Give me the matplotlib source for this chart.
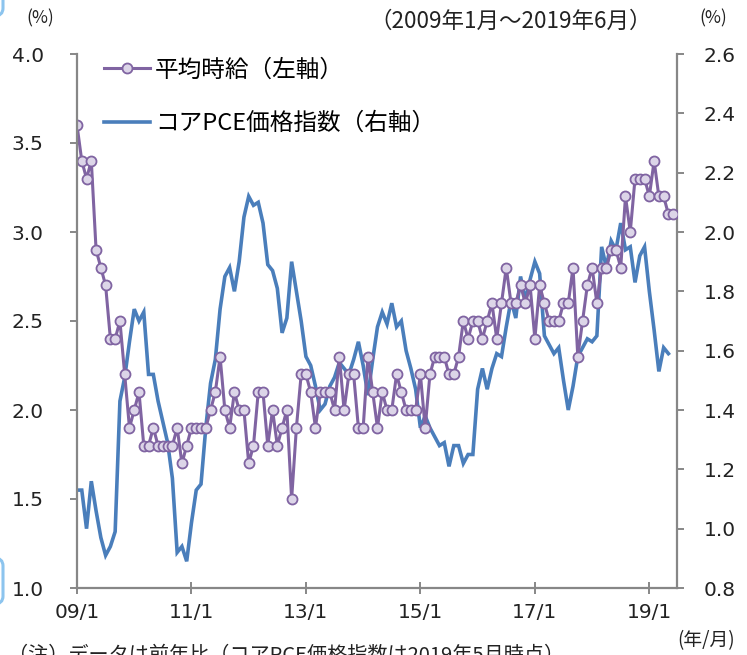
import numpy as np
import matplotlib.pyplot as plt
from matplotlib.lines import Line2D
from matplotlib.patches import FancyBboxPatch

plt.rcParams['font.family'] = ['DejaVu Sans', 'Noto Sans CJK JP']
JP = ['Noto Sans CJK JP', 'DejaVu Sans']

# monthly, 2009/1 - 2019/6 (y/y, %)
wage = [3.6, 3.4, 3.3, 3.4, 2.9, 2.8, 2.7, 2.4, 2.4, 2.5, 2.2, 1.9,   # 2009
        2.0, 2.1, 1.8, 1.8, 1.9, 1.8, 1.8, 1.8, 1.8, 1.9, 1.7, 1.8,   # 2010
        1.9, 1.9, 1.9, 1.9, 2.0, 2.1, 2.3, 2.0, 1.9, 2.1, 2.0, 2.0,   # 2011
        1.7, 1.8, 2.1, 2.1, 1.8, 2.0, 1.8, 1.9, 2.0, 1.5, 1.9, 2.2,   # 2012
        2.2, 2.1, 1.9, 2.1, 2.1, 2.1, 2.0, 2.3, 2.0, 2.2, 2.2, 1.9,   # 2013
        1.9, 2.3, 2.1, 1.9, 2.1, 2.0, 2.0, 2.2, 2.1, 2.0, 2.0, 2.0,   # 2014
        2.2, 1.9, 2.2, 2.3, 2.3, 2.3, 2.2, 2.2, 2.3, 2.5, 2.4, 2.5,   # 2015
        2.5, 2.4, 2.5, 2.6, 2.4, 2.6, 2.8, 2.6, 2.6, 2.7, 2.6, 2.7,   # 2016
        2.4, 2.7, 2.6, 2.5, 2.5, 2.5, 2.6, 2.6, 2.8, 2.3, 2.5, 2.7,   # 2017
        2.8, 2.6, 2.8, 2.8, 2.9, 2.9, 2.8, 3.2, 3.0, 3.3, 3.3, 3.3,   # 2018
        3.2, 3.4, 3.2, 3.2, 3.1, 3.1]                                 # 2019

# monthly, 2009/1 - 2019/5 (y/y, %)
core_pce = [1.13, 1.13, 1.00, 1.16, 1.06, 0.97, 0.91, 0.94, 0.99, 1.43, 1.51, 1.63,   # 2009
            1.74, 1.70, 1.73, 1.52, 1.52, 1.43, 1.36, 1.29, 1.17, 0.92, 0.94, 0.89,   # 2010
            1.02, 1.13, 1.15, 1.34, 1.49, 1.57, 1.74, 1.85, 1.88, 1.80, 1.90, 2.05,   # 2011
            2.12, 2.09, 2.10, 2.03, 1.89, 1.87, 1.81, 1.66, 1.71, 1.90, 1.80, 1.70,   # 2012
            1.58, 1.55, 1.48, 1.40, 1.42, 1.48, 1.51, 1.56, 1.54, 1.52, 1.57, 1.63,   # 2013
            1.55, 1.45, 1.57, 1.68, 1.73, 1.69, 1.76, 1.68, 1.70, 1.60, 1.54, 1.47,   # 2014
            1.34, 1.38, 1.34, 1.31, 1.28, 1.29, 1.21, 1.28, 1.28, 1.22, 1.25, 1.25,   # 2015
            1.47, 1.54, 1.47, 1.54, 1.59, 1.58, 1.68, 1.77, 1.71, 1.85, 1.77, 1.84,   # 2016
            1.90, 1.86, 1.65, 1.62, 1.59, 1.61, 1.50, 1.40, 1.48, 1.58, 1.61, 1.64,   # 2017
            1.63, 1.65, 1.95, 1.88, 1.97, 1.94, 2.03, 1.94, 1.95, 1.83, 1.92, 1.95,   # 2018
            1.80, 1.67, 1.53, 1.61, 1.59]                                           # 2019

xtick_labels = ['09/1', '11/1', '13/1', '15/1', '17/1', '19/1']
left_ticks = [1.0, 1.5, 2.0, 2.5, 3.0, 3.5, 4.0]
right_ticks = [0.8, 1.0, 1.2, 1.4, 1.6, 1.8, 2.0, 2.2, 2.4, 2.6]

PURPLE = '#8064A2'
LAVENDER = '#DCD5E8'
BLUE = '#4A7EBB'
GRAY = '#878787'

W, H = 747, 655
fig = plt.figure(figsize=(W / 100, H / 100), dpi=100)
ax = fig.add_axes([77 / W, 1 - 588 / H, 600 / W, 534 / H])
ax2 = ax.twinx()

ax2.plot(np.arange(len(core_pce)), core_pce, color=BLUE, lw=2.6, solid_joinstyle='miter')
ax.plot(np.arange(len(wage)), wage, color=PURPLE, lw=2.2,
        marker='o', ms=7.2, mfc=LAVENDER, mec=PURPLE, mew=1.3)

# wage on top of the PCE line
ax.set_zorder(ax2.get_zorder() + 1)
ax.patch.set_visible(False)

ax.set_xlim(0, 125.8)
ax.set_ylim(1.0, 4.0)
ax2.set_ylim(0.8, 2.6)

ax.set_xticks(np.arange(0, 121, 24))
ax.set_xticklabels(xtick_labels)
ax.set_yticks(left_ticks)
ax.set_yticklabels([f'{v:.1f}' for v in left_ticks])
ax2.set_yticks(right_ticks)
ax2.set_yticklabels([f'{v:.1f}' for v in right_ticks])

for a in (ax, ax2):
    for s in a.spines.values():
        s.set_color(GRAY)
        s.set_linewidth(1.6)
    a.spines['top'].set_visible(False)
ax.spines['right'].set_visible(False)
ax2.spines['left'].set_visible(False)
ax2.spines['bottom'].set_visible(False)

ax.tick_params(axis='y', direction='out', length=5, width=1.4, color=GRAY,
               labelsize=14.5, pad=19, labelcolor='#222222')
ax.tick_params(axis='x', direction='inout', length=9, width=1.4, color=GRAY,
               labelsize=14.5, pad=6, labelcolor='#222222')
ax2.tick_params(axis='y', direction='out', length=5, width=1.4, color=GRAY,
                labelsize=14.5, pad=14, labelcolor='#222222')

handles = [Line2D([], [], color=PURPLE, lw=2.2, marker='o', ms=7.2,
                  mfc=LAVENDER, mec=PURPLE, mew=1.3),
           Line2D([], [], color=BLUE, lw=2.6)]
ax.legend(handles, ['平均時給（左軸）', 'コアPCE価格指数（右軸）'],
          loc='upper left', bbox_to_anchor=(0.045, 0.992), frameon=False,
          prop={'family': JP, 'size': 17}, handlelength=1.95, handletextpad=0.2,
          labelspacing=1.3, borderpad=0, borderaxespad=0)


def ftext(x, y, s, **kw):
    fig.text(x / W, 1 - y / H, s, family=JP, color='#222222', **kw)


ftext(40, 18, '(%)', fontsize=12.5, ha='center', va='center')
ftext(713, 18, '(%)', fontsize=12.5, ha='center', va='center')
ftext(511, 21, '（2009年1月～2019年6月）', fontsize=16.2, ha='center', va='center')
ftext(706, 641, '(年/月)', fontsize=13.5, ha='center', va='center')
ftext(8, 655, '（注）データは前年比（コアPCE価格指数は2019年5月時点）',
      fontsize=14.5, ha='left', va='center')

# selection marks along the left edge
for y0, y1 in [(-30, 16), (558, 604)]:
    fig.patches.append(FancyBboxPatch((-14 / W, 1 - y1 / H), 17 / W, (y1 - y0) / H,
                                      boxstyle='round,pad=0,rounding_size=0.012',
                                      transform=fig.transFigure, fill=False,
                                      ec='#8cc4ee', lw=2.2))

fig.savefig('out.png', dpi=100)
